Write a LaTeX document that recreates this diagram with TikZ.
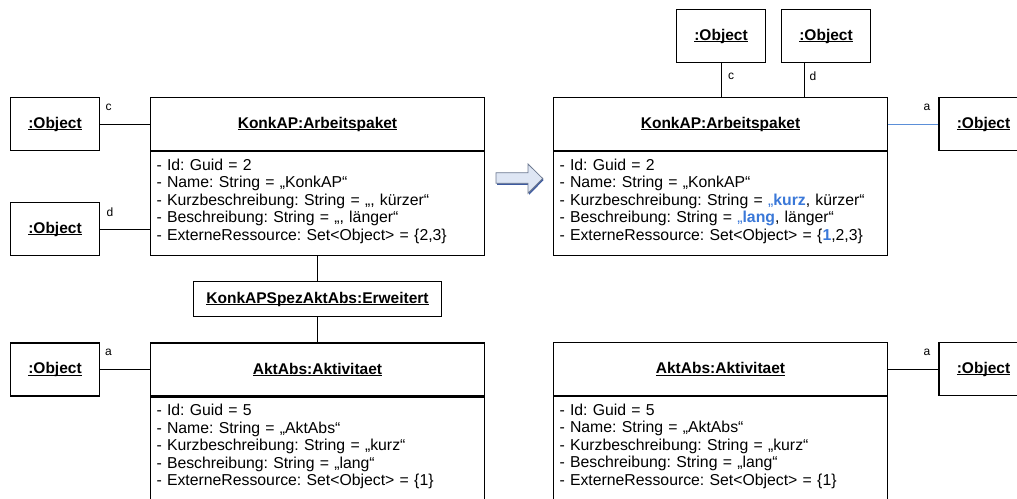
\documentclass[tikz,border=0pt]{standalone}
\usepackage{fontspec}
\setmainfont{Liberation Sans}
\usepackage{xcolor}
\usepackage{tikz}
\usetikzlibrary{positioning}
\frenchspacing

\definecolor{uniblue}{RGB}{58,120,216}
\definecolor{linkblue}{RGB}{91,143,216}
\definecolor{arrowfill}{RGB}{222,230,244}
\definecolor{arrowedge}{RGB}{110,122,145}
\definecolor{arrowshade}{RGB}{60,90,160}

% underlined object name
\newcommand{\objul}[1]{\setbox0\hbox{\bfseries #1}\rlap{\rule[-2pt]{\wd0}{1pt}}\box0}

\begin{document}
\begin{tikzpicture}[x=1pt, y=-1pt,
  objhead/.style={draw, line width=1.3pt, minimum width=334pt, minimum height=53pt, inner sep=0pt, font=\fontsize{15.5}{18}\selectfont},
  objattr/.style={draw, line width=1.3pt, minimum width=334pt, minimum height=104pt, text width=322pt, inner xsep=6pt, align=left, font=\fontsize{15.8}{17.6}\selectfont, execute at end node={\\[-9pt]\mbox{}}},
  objref/.style={draw, line width=1.3pt, minimum width=89pt, minimum height=53pt, inner sep=0pt, font=\fontsize{15.5}{18}\selectfont},
  role/.style={inner sep=0pt, font=\fontsize{12}{14}\selectfont},
  assoc/.style={line width=1pt}]
  \useasboundingbox (0,0) rectangle (1017,498);
  \clip (0,0) rectangle (1017,498);
  % Left: before
  \node[objhead] (konkL) at (317.5,124) {\objul{KonkAP:Arbeitspaket}};
  \node[objattr, below=0pt of konkL] (konkLattr) {- Id: Guid = 2\\
    - Name: String = „KonkAP“\\
    - Kurzbeschreibung: String = „, kürzer“\\
    - Beschreibung: String = „, länger“\\
    - ExterneRessource: Set<Object> = \{2,3\}};
  \node[objref] (objc) at (55,124) {\objul{:Object}};
  \node[objref] (objd) at (55,229) {\objul{:Object}};
  \draw[assoc] (objc) -- (konkL);
  \draw[assoc] (objd) -- (objd -| konkLattr.west);
  \node[role] (lblc) at (108.5,107) {c};
  \node[role] (lbld) at (110,212) {d};
  \node[objref, minimum width=248pt, minimum height=35pt] (erw) at (317.5,299) {\objul{KonkAPSpezAktAbs:Erweitert}};
  \node[objhead] (aktL) at (317.5,369.5) {\objul{AktAbs:Aktivitaet}};
  \node[objattr, below=0pt of aktL] (aktLattr) {- Id: Guid = 5\\
    - Name: String = „AktAbs“\\
    - Kurzbeschreibung: String = „kurz“\\
    - Beschreibung: String = „lang“\\
    - ExterneRessource: Set<Object> = \{1\}};
  \draw[assoc] (konkLattr) -- (erw);
  \draw[assoc] (erw) -- (aktL);
  \node[objref] (obja) at (55,369.5) {\objul{:Object}};
  \draw[assoc] (obja) -- (aktL);
  \node[role] (lbla) at (108.5,352) {a};
  % Arrow
  \fill[arrowshade] (497,174) -- (529,174) -- (529,165.5) -- (543.7,180) -- (529,194.8) -- (529,184.8) -- (497,184.8) -- cycle;
  \filldraw[fill=arrowfill, draw=arrowedge, line width=0.8pt] (496,172.7) -- (528,172.7) -- (528,164) -- (542.7,178.5) -- (528,193.3) -- (528,183.3) -- (496,183.3) -- cycle;
  % Right: after
  \node[objhead] (konkR) at (720.5,124) {\objul{KonkAP:Arbeitspaket}};
  \node[objattr, below=0pt of konkR] (konkRattr) {- Id: Guid = 2\\
    - Name: String = „KonkAP“\\
    - Kurzbeschreibung: String = {\color{uniblue}„\textbf{kurz}}, kürzer“\\
    - Beschreibung: String = {\color{uniblue}„\textbf{lang}}, länger“\\
    - ExterneRessource: Set<Object> = \{{\color{uniblue}\textbf{1}},2,3\}};
  \node[objref] (tobjc) at (721,36) {\objul{:Object}};
  \node[objref] (tobjd) at (826,36) {\objul{:Object}};
  \coordinate (dlink) at (804,80);
  \draw[assoc] (tobjc) -- (tobjc |- konkR.north);
  \draw[assoc] (dlink |- tobjd.south) -- (dlink |- konkR.north);
  \node[role] (rlblc) at (731,76) {c};
  \node[role] (rlbld) at (813,76) {d};
  \node[objref] (robja) at (983.5,124) {\objul{:Object}};
  \draw[assoc, linkblue] (konkR) -- (robja);
  \node[role] (rlbla) at (927,107) {a};
  \node[objhead] (aktR) at (720.5,369) {\objul{AktAbs:Aktivitaet}};
  \node[objattr, below=0pt of aktR] (aktRattr) {- Id: Guid = 5\\
    - Name: String = „AktAbs“\\
    - Kurzbeschreibung: String = „kurz“\\
    - Beschreibung: String = „lang“\\
    - ExterneRessource: Set<Object> = \{1\}};
  \node[objref] (robjb) at (983.5,369) {\objul{:Object}};
  \draw[assoc] (aktR) -- (robjb);
  \node[role] (rlblb) at (927,352) {a};
\end{tikzpicture}
\end{document}
